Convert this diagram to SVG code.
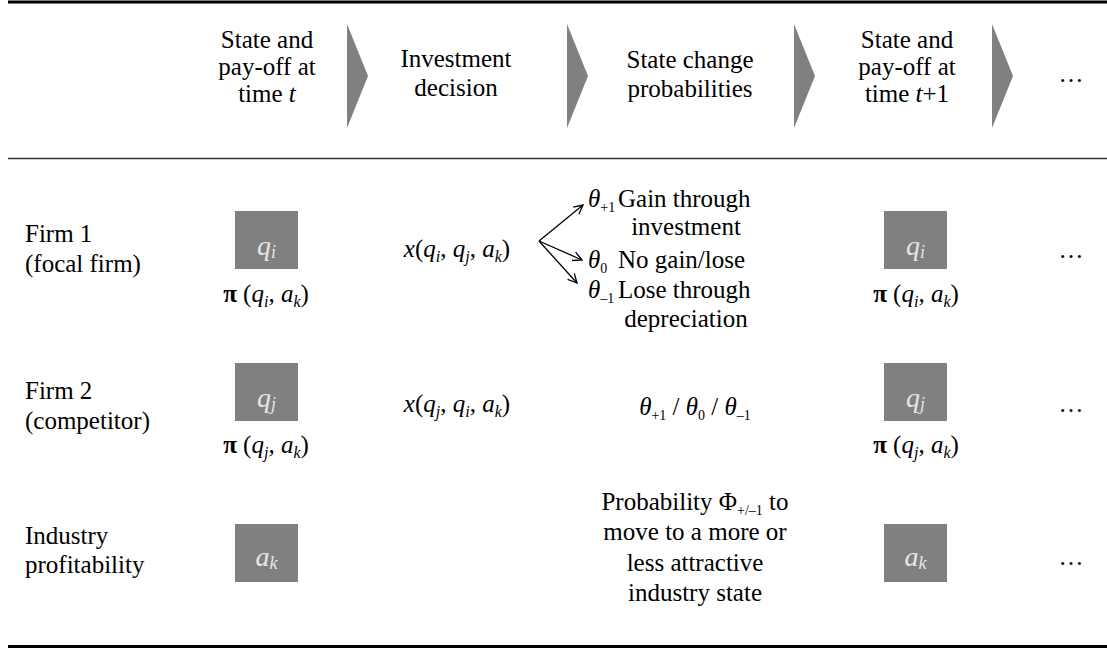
<svg xmlns="http://www.w3.org/2000/svg" width="1107" height="648" viewBox="0 0 1107 648">
<style>
svg[viewBox] text, svg[viewBox] tspan, text, tspan { font-family: 'Liberation Serif', serif !important; }
</style>
<rect width="1107" height="648" fill="#fff"/>
<g id="rules" stroke="#000" fill="none">
<line x1="8" y1="2" x2="1107" y2="2" stroke-width="3"/>
<line x1="8" y1="158.5" x2="1107" y2="158.5" stroke-width="1.5" stroke="#333"/>
<line x1="8" y1="646.5" x2="1107" y2="646.5" stroke-width="3"/>
</g>
<g id="flow" fill="#808080">
<polygon points="347,24 368,76 347,128"/>
<polygon points="567,24 588,76 567,128"/>
<polygon points="794,24 815,76 794,128"/>
<polygon points="992,24 1013,76 992,128"/>
</g>
<g id="header">
<text style="font-family:'Liberation Serif',serif !important" x="267" y="48" font-size="25" font-family="Liberation Serif" text-anchor="middle">State and</text>
<text style="font-family:'Liberation Serif',serif !important" x="267" y="75" font-size="25" font-family="Liberation Serif" text-anchor="middle">pay-off at</text>
<text style="font-family:'Liberation Serif',serif !important" x="267" y="102" font-size="25" font-family="Liberation Serif" text-anchor="middle">time <tspan font-style="italic">t</tspan></text>
<text style="font-family:'Liberation Serif',serif !important" x="456" y="67" font-size="25" font-family="Liberation Serif" text-anchor="middle">Investment</text>
<text style="font-family:'Liberation Serif',serif !important" x="456" y="96" font-size="25" font-family="Liberation Serif" text-anchor="middle">decision</text>
<text style="font-family:'Liberation Serif',serif !important" x="690" y="68" font-size="25" font-family="Liberation Serif" text-anchor="middle">State change</text>
<text style="font-family:'Liberation Serif',serif !important" x="690" y="97" font-size="25" font-family="Liberation Serif" text-anchor="middle">probabilities</text>
<text style="font-family:'Liberation Serif',serif !important" x="907" y="48" font-size="25" font-family="Liberation Serif" text-anchor="middle">State and</text>
<text style="font-family:'Liberation Serif',serif !important" x="907" y="75" font-size="25" font-family="Liberation Serif" text-anchor="middle">pay-off at</text>
<text style="font-family:'Liberation Serif',serif !important" x="907" y="102" font-size="25" font-family="Liberation Serif" text-anchor="middle">time <tspan font-style="italic">t</tspan>+1</text>
<text style="font-family:'Liberation Serif',serif !important" x="1071" y="82" font-size="25" font-family="Liberation Serif" text-anchor="middle">…</text>
</g>
<g id="row-labels">
<text style="font-family:'Liberation Serif',serif !important" x="25" y="242" font-size="25" font-family="Liberation Serif">Firm 1</text>
<text style="font-family:'Liberation Serif',serif !important" x="25" y="272" font-size="25" font-family="Liberation Serif">(focal firm)</text>
<text style="font-family:'Liberation Serif',serif !important" x="25" y="399" font-size="25" font-family="Liberation Serif">Firm 2</text>
<text style="font-family:'Liberation Serif',serif !important" x="25" y="429" font-size="25" font-family="Liberation Serif">(competitor)</text>
<text style="font-family:'Liberation Serif',serif !important" x="25" y="544" font-size="25" font-family="Liberation Serif">Industry</text>
<text style="font-family:'Liberation Serif',serif !important" x="25" y="573" font-size="25" font-family="Liberation Serif">profitability</text>
</g>
<g id="qi-t">
<rect x="235" y="211" width="63" height="58" fill="#808080"/>
<text style="font-family:'Liberation Serif',serif !important" x="266.5" y="255" font-size="28" font-family="Liberation Serif" font-style="italic" fill="#e6e6e6" text-anchor="middle">q<tspan font-size="18" dy="3">i</tspan></text>
<text style="font-family:'Liberation Serif',serif !important" x="266" y="302" font-size="25" font-family="Liberation Serif" text-anchor="middle"><tspan font-weight="bold">π</tspan> (<tspan font-style="italic">q</tspan><tspan font-size="16" font-style="italic" dy="5">i</tspan><tspan dy="-5">, </tspan><tspan font-style="italic">a</tspan><tspan font-size="16" font-style="italic" dy="5">k</tspan><tspan dy="-5">)</tspan></text>
</g>
<g id="qj-t">
<rect x="235" y="363" width="63" height="58" fill="#808080"/>
<text style="font-family:'Liberation Serif',serif !important" x="266.5" y="407" font-size="28" font-family="Liberation Serif" font-style="italic" fill="#e6e6e6" text-anchor="middle">q<tspan font-size="18" dy="3">j</tspan></text>
<text style="font-family:'Liberation Serif',serif !important" x="266" y="453" font-size="25" font-family="Liberation Serif" text-anchor="middle"><tspan font-weight="bold">π</tspan> (<tspan font-style="italic">q</tspan><tspan font-size="16" font-style="italic" dy="5">j</tspan><tspan dy="-5">, </tspan><tspan font-style="italic">a</tspan><tspan font-size="16" font-style="italic" dy="5">k</tspan><tspan dy="-5">)</tspan></text>
</g>
<g id="ak-t">
<rect x="235" y="524" width="63" height="58" fill="#808080"/>
<text style="font-family:'Liberation Serif',serif !important" x="266.5" y="566" font-size="28" font-family="Liberation Serif" font-style="italic" fill="#e6e6e6" text-anchor="middle">a<tspan font-size="18" dy="3">k</tspan></text>
</g>
<g id="invest-1">
<text style="font-family:'Liberation Serif',serif !important" x="457" y="257" font-size="25" font-family="Liberation Serif" text-anchor="middle"><tspan font-style="italic">x</tspan>(<tspan font-style="italic">q</tspan><tspan font-size="16" font-style="italic" dy="5">i</tspan><tspan dy="-5">, </tspan><tspan font-style="italic">q</tspan><tspan font-size="16" font-style="italic" dy="5">j</tspan><tspan dy="-5">, </tspan><tspan font-style="italic">a</tspan><tspan font-size="16" font-style="italic" dy="5">k</tspan><tspan dy="-5">)</tspan></text>
</g>
<g id="invest-2">
<text style="font-family:'Liberation Serif',serif !important" x="457" y="412" font-size="25" font-family="Liberation Serif" text-anchor="middle"><tspan font-style="italic">x</tspan>(<tspan font-style="italic">q</tspan><tspan font-size="16" font-style="italic" dy="5">j</tspan><tspan dy="-5">, </tspan><tspan font-style="italic">q</tspan><tspan font-size="16" font-style="italic" dy="5">i</tspan><tspan dy="-5">, </tspan><tspan font-style="italic">a</tspan><tspan font-size="16" font-style="italic" dy="5">k</tspan><tspan dy="-5">)</tspan></text>
</g>
<g id="prob-gain">
<text style="font-family:'Liberation Serif',serif !important" x="588" y="207" font-size="25" font-family="Liberation Serif"><tspan font-style="italic">θ</tspan><tspan font-size="14" dy="5">+1</tspan></text>
<text style="font-family:'Liberation Serif',serif !important" x="618" y="207" font-size="25" font-family="Liberation Serif">Gain through</text>
<text style="font-family:'Liberation Serif',serif !important" x="686" y="235" font-size="25" font-family="Liberation Serif" text-anchor="middle">investment</text>
</g>
<g id="prob-none">
<text style="font-family:'Liberation Serif',serif !important" x="588" y="268" font-size="25" font-family="Liberation Serif"><tspan font-style="italic">θ</tspan><tspan font-size="14" dy="5">0</tspan></text>
<text style="font-family:'Liberation Serif',serif !important" x="618" y="268" font-size="25" font-family="Liberation Serif">No gain/lose</text>
</g>
<g id="prob-lose">
<text style="font-family:'Liberation Serif',serif !important" x="588" y="298" font-size="25" font-family="Liberation Serif"><tspan font-style="italic">θ</tspan><tspan font-size="14" dy="5">–1</tspan></text>
<text style="font-family:'Liberation Serif',serif !important" x="618" y="298" font-size="25" font-family="Liberation Serif">Lose through</text>
<text style="font-family:'Liberation Serif',serif !important" x="686" y="327" font-size="25" font-family="Liberation Serif" text-anchor="middle">depreciation</text>
</g>
<g id="prob-2">
<text style="font-family:'Liberation Serif',serif !important" x="695" y="415" font-size="25" font-family="Liberation Serif" text-anchor="middle"><tspan font-style="italic">θ</tspan><tspan font-size="14" dy="5">+1</tspan><tspan dy="-5"> / </tspan><tspan font-style="italic">θ</tspan><tspan font-size="14" dy="5">0</tspan><tspan dy="-5"> / </tspan><tspan font-style="italic">θ</tspan><tspan font-size="14" dy="5">–1</tspan></text>
</g>
<g id="prob-industry">
<text style="font-family:'Liberation Serif',serif !important" x="695" y="510" font-size="25" font-family="Liberation Serif" text-anchor="middle">Probability Φ<tspan font-size="14" dy="5">+/–1</tspan><tspan dy="-5"> to</tspan></text>
<text style="font-family:'Liberation Serif',serif !important" x="695" y="540" font-size="25" font-family="Liberation Serif" text-anchor="middle">move to a more or</text>
<text style="font-family:'Liberation Serif',serif !important" x="695" y="571" font-size="25" font-family="Liberation Serif" text-anchor="middle">less attractive</text>
<text style="font-family:'Liberation Serif',serif !important" x="695" y="601" font-size="25" font-family="Liberation Serif" text-anchor="middle">industry state</text>
</g>
<g id="qi-t1">
<rect x="884" y="211" width="63" height="58" fill="#808080"/>
<text style="font-family:'Liberation Serif',serif !important" x="915.5" y="255" font-size="28" font-family="Liberation Serif" font-style="italic" fill="#e6e6e6" text-anchor="middle">q<tspan font-size="18" dy="3">i</tspan></text>
<text style="font-family:'Liberation Serif',serif !important" x="916" y="302" font-size="25" font-family="Liberation Serif" text-anchor="middle"><tspan font-weight="bold">π</tspan> (<tspan font-style="italic">q</tspan><tspan font-size="16" font-style="italic" dy="5">i</tspan><tspan dy="-5">, </tspan><tspan font-style="italic">a</tspan><tspan font-size="16" font-style="italic" dy="5">k</tspan><tspan dy="-5">)</tspan></text>
</g>
<g id="qj-t1">
<rect x="884" y="363" width="63" height="58" fill="#808080"/>
<text style="font-family:'Liberation Serif',serif !important" x="915.5" y="407" font-size="28" font-family="Liberation Serif" font-style="italic" fill="#e6e6e6" text-anchor="middle">q<tspan font-size="18" dy="3">j</tspan></text>
<text style="font-family:'Liberation Serif',serif !important" x="916" y="453" font-size="25" font-family="Liberation Serif" text-anchor="middle"><tspan font-weight="bold">π</tspan> (<tspan font-style="italic">q</tspan><tspan font-size="16" font-style="italic" dy="5">j</tspan><tspan dy="-5">, </tspan><tspan font-style="italic">a</tspan><tspan font-size="16" font-style="italic" dy="5">k</tspan><tspan dy="-5">)</tspan></text>
</g>
<g id="ak-t1">
<rect x="884" y="524" width="63" height="58" fill="#808080"/>
<text style="font-family:'Liberation Serif',serif !important" x="915.5" y="566" font-size="28" font-family="Liberation Serif" font-style="italic" fill="#e6e6e6" text-anchor="middle">a<tspan font-size="18" dy="3">k</tspan></text>
</g>
<g id="ellipses">
<text style="font-family:'Liberation Serif',serif !important" x="1071" y="258" font-size="25" font-family="Liberation Serif" text-anchor="middle">…</text>
<text style="font-family:'Liberation Serif',serif !important" x="1071" y="412" font-size="25" font-family="Liberation Serif" text-anchor="middle">…</text>
<text style="font-family:'Liberation Serif',serif !important" x="1071" y="565" font-size="25" font-family="Liberation Serif" text-anchor="middle">…</text>
</g>
<g id="connectors" stroke="#000" stroke-width="1.3" fill="none" stroke-linejoin="miter">
<path d="M539,241 L583,205"/>
<path d="M578.9,214.2 L583,205 L573.2,207.2"/>
<path d="M539,241 L582,260"/>
<path d="M575.6,252.2 L582,260 L572,260.5"/>
<path d="M539,241 L577,283"/>
<path d="M574.3,273.3 L577,283 L567.6,279.4"/>
</g>
</svg>
